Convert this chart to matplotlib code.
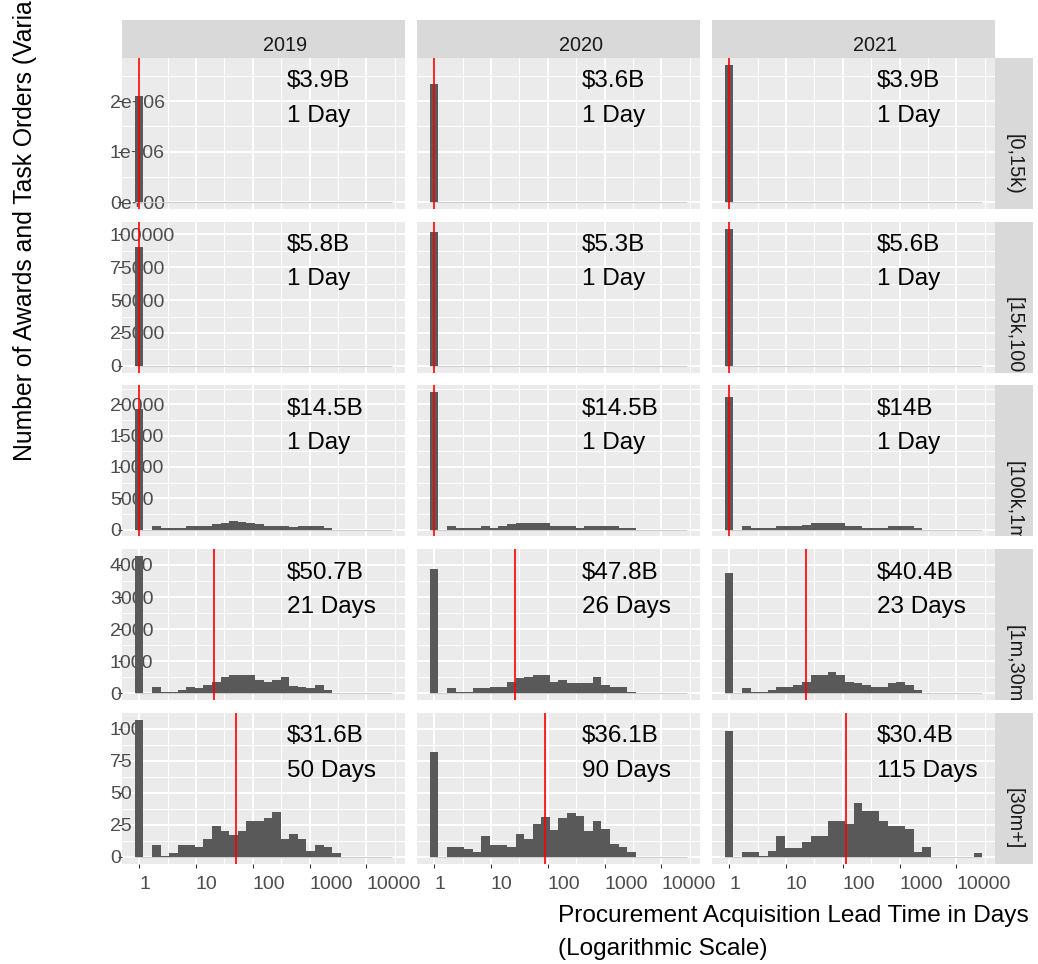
import numpy as np
import matplotlib
matplotlib.use("Agg")
import matplotlib.pyplot as plt
from matplotlib.ticker import FixedLocator, NullFormatter
from matplotlib.transforms import blended_transform_factory

plt.rcParams['font.family'] = ['Liberation Sans', 'DejaVu Sans']

# ---------------- data ----------------
years = ['2019', '2020', '2021']
size_bins = ['[0,15k)', '[15k,100k)', '[100k,1m)', '[1m,30m)', '[30m+]']

N_BINS = 30
BIN_W = 0.151  # histogram bin width in log10(days)

Z = [0] * 29
# counts per histogram bin (bin 0 = 1 day), rows = size bins, cols = years
counts_r1_2019 = [2110000] + Z
counts_r1_2020 = [2350000] + Z
counts_r1_2021 = [2720000] + Z

counts_r2_2019 = [90200] + Z
counts_r2_2020 = [102000] + Z
counts_r2_2021 = [104500] + Z

counts_r3_2019 = [19300, 0, 640, 265, 265, 265, 640, 640, 640, 900, 1100, 1380, 1150, 1100, 850,
                  640, 640, 640, 370, 640, 640, 640, 265, 0, 0, 0, 0, 0, 0, 0]
counts_r3_2020 = [21900, 0, 640, 265, 265, 265, 640, 265, 640, 900, 1110, 1110, 1110, 1110, 640,
                  640, 640, 265, 640, 640, 640, 640, 265, 265, 0, 0, 0, 0, 0, 0]
counts_r3_2021 = [21200, 0, 640, 265, 265, 265, 640, 640, 640, 800, 1110, 1110, 1110, 1110, 640,
                  640, 265, 265, 265, 640, 640, 640, 265, 0, 0, 0, 0, 0, 0, 0]

counts_r4_2019 = [4280, 0, 208, 42, 42, 104, 208, 177, 260, 364, 520, 571, 571, 571, 415,
                  343, 415, 520, 240, 208, 177, 260, 104, 0, 0, 0, 0, 0, 0, 0]
counts_r4_2020 = [3880, 0, 166, 42, 42, 166, 166, 208, 208, 353, 488, 520, 571, 571, 353,
                  415, 332, 332, 332, 520, 260, 187, 187, 42, 0, 0, 0, 0, 0, 0]
counts_r4_2021 = [3760, 0, 166, 42, 42, 104, 187, 187, 260, 353, 571, 571, 665, 571, 353,
                  312, 260, 208, 208, 312, 353, 260, 104, 0, 0, 0, 0, 0, 0, 0]

counts_r5_2019 = [107, 0, 9, 1, 3, 9, 9, 8, 14, 24, 20, 17, 20, 28, 28,
                  30, 35, 14, 18, 14, 5, 9, 8, 3, 0, 0, 0, 0, 0, 0]
counts_r5_2020 = [82, 0, 8, 8, 6, 4, 16, 9, 9, 8, 18, 14, 26, 31, 21,
                  30, 34, 32, 20, 28, 22, 10, 8, 4, 0, 0, 0, 0, 0, 0]
counts_r5_2021 = [98, 0, 4, 4, 1, 5, 16, 7, 7, 12, 16, 16, 28, 28, 26,
                  42, 36, 36, 28, 24, 24, 22, 4, 8, 0, 0, 0, 0, 0, 3]

counts = [
    [counts_r1_2019, counts_r1_2020, counts_r1_2021],
    [counts_r2_2019, counts_r2_2020, counts_r2_2021],
    [counts_r3_2019, counts_r3_2020, counts_r3_2021],
    [counts_r4_2019, counts_r4_2020, counts_r4_2021],
    [counts_r5_2019, counts_r5_2020, counts_r5_2021],
]

median_days = [
    [1, 1, 1],
    [1, 1, 1],
    [1, 1, 1],
    [21, 26, 23],
    [50, 90, 115],
]
total_value = [
    ['$3.9B', '$3.6B', '$3.9B'],
    ['$5.8B', '$5.3B', '$5.6B'],
    ['$14.5B', '$14.5B', '$14B'],
    ['$50.7B', '$47.8B', '$40.4B'],
    ['$31.6B', '$36.1B', '$30.4B'],
]

y_tick_values = [
    [0, 1000000, 2000000],
    [0, 25000, 50000, 75000, 100000],
    [0, 5000, 10000, 15000, 20000],
    [0, 1000, 2000, 3000, 4000],
    [0, 25, 50, 75, 100],
]
y_tick_labels = [
    ['0e+00', '1e+06', '2e+06'],
    ['0', '25000', '50000', '75000', '100000'],
    ['0', '5000', '10000', '15000', '20000'],
    ['0', '1000', '2000', '3000', '4000'],
    ['0', '25', '50', '75', '100'],
]
x_tick_values = [1, 10, 100, 1000, 10000]
x_tick_labels = ['1', '10', '100', '1000', '10000']
label_x_days = 400

x_title = ['Procurement Acquisition Lead Time in Days', '(Logarithmic Scale)']
y_title = 'Number of Awards and Task Orders (Variable Scale)'

# ---------------- layout ----------------
W, H = 1038, 964
fig = plt.figure(figsize=(W / 100, H / 100), dpi=100)

col_left = [122, 417, 712]
PW, PH = 283, 151
ROW_TOP0, ROW_STEP = 58, 163.7
STRIP_TOP, STRIP_H = 20, 38
RSTRIP_L, RSTRIP_W = 995, 38


def rect(l, t, w, h):
    return [l / W, 1 - (t + h) / H, w / W, h / H]


edges = 10 ** ((np.arange(N_BINS + 1) - 0.5) * BIN_W)
lefts = edges[:-1]
widths = np.diff(edges)
xlim = (10 ** (-2 * BIN_W), 10 ** ((N_BINS + 1) * BIN_W))
x_minor = 10 ** (np.arange(0, 5) + 0.5)

TICK_COL = '#333333'
LAB_COL = '#4D4D4D'
STRIP_BG = '#D9D9D9'
PANEL_BG = '#EBEBEB'

for r in range(5):
    top = ROW_TOP0 + r * ROW_STEP
    ymax = max(max(c) for c in counts[r])
    yt = y_tick_values[r]
    step = yt[1] - yt[0]
    y_minor = [v + step / 2 for v in [yt[0] - step] + yt]
    for c in range(3):
        ax = fig.add_axes(rect(col_left[c], top, PW, PH))
        ax.set_facecolor(PANEL_BG)
        for s in ax.spines.values():
            s.set_visible(False)
        ax.set_xscale('log')
        ax.set_xlim(xlim)
        ax.set_ylim(-0.05 * ymax, 1.05 * ymax)

        ax.xaxis.set_major_locator(FixedLocator(x_tick_values))
        ax.xaxis.set_minor_locator(FixedLocator(x_minor))
        ax.xaxis.set_minor_formatter(NullFormatter())
        ax.set_xticks(x_tick_values, x_tick_labels)
        ax.set_yticks(yt, y_tick_labels[r])
        ax.yaxis.set_minor_locator(FixedLocator(y_minor))
        ax.yaxis.set_minor_formatter(NullFormatter())

        ax.set_axisbelow(True)
        ax.grid(which='major', color='white', lw=1.45)
        ax.grid(which='minor', color='white', lw=0.72)
        ax.tick_params(which='minor', length=0)
        ax.tick_params(which='major', length=2.75, width=0.77, color=TICK_COL,
                       labelcolor=LAB_COL, labelsize=14)
        ax.tick_params(axis='y', pad=5.9)
        ax.tick_params(axis='x', pad=5.9)

        if r < 4:
            ax.tick_params(axis='x', which='major', length=0, labelbottom=False)
        else:
            for lbl in ax.get_xticklabels():
                lbl.set_ha('left')
        if c > 0:
            ax.tick_params(axis='y', which='major', length=0, labelleft=False)
        else:
            for lbl in ax.get_yticklabels():
                lbl.set_ha('left')

        ax.hlines(0, edges[0], edges[-1], color='#CFCFCF', lw=0.8, zorder=1.5)
        ax.bar(lefts, counts[r][c], width=widths, align='edge',
               color='#595959', linewidth=0, zorder=2)
        ax.axvline(median_days[r][c], color='red', lw=1.2, zorder=3)

        tr = blended_transform_factory(ax.transData, ax.transAxes)
        m = median_days[r][c]
        day_txt = f"{m} Day" if m == 1 else f"{m} Days"
        ax.text(label_x_days, 0.805, total_value[r][c], transform=tr,
                ha='left', va='baseline', fontsize=17.5, color='black', zorder=4)
        ax.text(label_x_days, 0.578, day_txt, transform=tr,
                ha='left', va='baseline', fontsize=17.5, color='black', zorder=4)

        # top strips
        if r == 0:
            sax = fig.add_axes(rect(col_left[c], STRIP_TOP, PW, STRIP_H))
            sax.set_facecolor(STRIP_BG)
            sax.set_xticks([]); sax.set_yticks([])
            for s in sax.spines.values():
                s.set_visible(False)
            sax.text(0.5, 0.19, years[c], transform=sax.transAxes, ha='left',
                     va='baseline', fontsize=14.3, color='#1A1A1A')

    # right strip
    rax = fig.add_axes(rect(RSTRIP_L, top, RSTRIP_W, PH))
    rax.set_facecolor(STRIP_BG)
    rax.set_xticks([]); rax.set_yticks([])
    for s in rax.spines.values():
        s.set_visible(False)
    t = rax.text(0.5, 0.5, size_bins[r], transform=rax.transAxes, rotation=-90,
                 rotation_mode='anchor', ha='left', va='center', fontsize=14.3,
                 color='#1A1A1A')
    t.set_clip_on(True)
    t.set_clip_path(rax.patch)

# axis titles (left-aligned at panel-area centre, as in the reference)
x_c = (col_left[0] + col_left[2] + PW) / 2
fig.text(x_c / W, 1 - 921.7 / H, x_title[0], ha='left', va='baseline', fontsize=17.6)
fig.text(x_c / W, 1 - 955 / H, x_title[1], ha='left', va='baseline', fontsize=17.6)
y_c = (ROW_TOP0 + ROW_TOP0 + 4 * ROW_STEP + PH) / 2
fig.text(32 / W, 1 - y_c / H, y_title, rotation=90, rotation_mode='anchor',
         ha='left', va='baseline', fontsize=17.8)

fig.savefig('out.png', dpi=100)
